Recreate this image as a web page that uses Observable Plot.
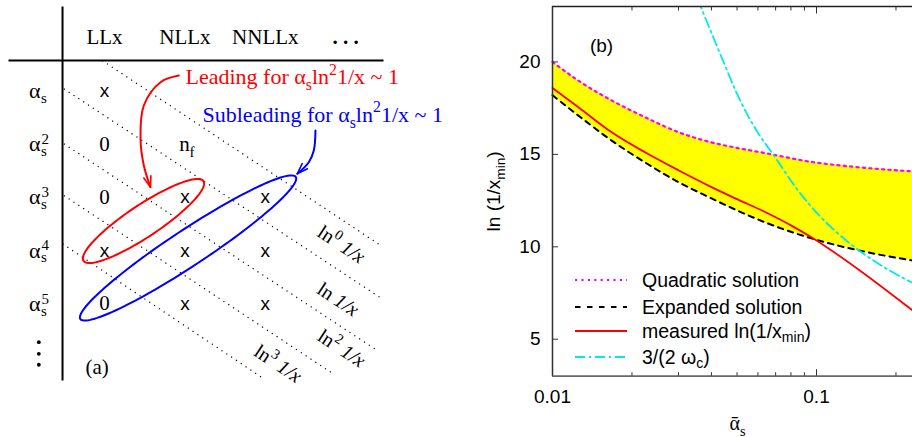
<!DOCTYPE html>
<html><head><meta charset="utf-8">
<script src="https://cdn.jsdelivr.net/npm/d3@7"></script>
<script src="https://cdn.jsdelivr.net/npm/@observablehq/plot@0.6"></script>
<style>
body{margin:0;background:#fff;}
#fig{position:relative;width:912px;height:437px;overflow:hidden;background:#fff;}
#left{position:absolute;left:0;top:0;}
#right{position:absolute;left:470px;top:0;}
#legend{position:absolute;left:0;top:0;font-family:"Liberation Sans",Arial,sans-serif;font-size:19.5px;color:#000;}
.lrow{position:absolute;left:575px;height:26px;display:flex;align-items:center;white-space:nowrap;}
.lrow svg{display:block;margin-right:15px;}
.lrow sub{font-size:72%;vertical-align:-0.3em;line-height:0;}
</style></head><body>
<div id="fig"><div id="left"></div><div id="right"></div><div id="legend"></div></div>
<script>
// ---------------- Panel (a): data ----------------
const columns = ["LLx", "NLLx", "NNLLx", ". . ."];
const rowPowers = ["", "2", "3", "4", "5"];
const cellGrid = [
  ["x", "", ""],
  ["0", "n_{f}", ""],
  ["0", "x", "x"],
  ["x", "x", "x"],
  ["0", "x", "x"]
];
const diagonalLabels = ["ln^{0} %{1/x}", "ln %{1/x}", "ln^{2} %{1/x}", "ln^{3} %{1/x}"];
const leadingText = "Leading for α_{s}ln^{2}1/x ~ 1";
const subleadingText = "Subleading for α_{s}ln^{2}1/x ~ 1";
const panelA = "(a)";

// ---------------- Panel (b): data ----------------
const alphaGrid = [0.01, 0.0125, 0.0167, 0.0225, 0.03, 0.04, 0.05, 0.065, 0.095, 0.145, 0.231];
const quadratic = [20.0, 19.0, 17.93, 17.0, 16.2, 15.65, 15.35, 15.05, 14.6, 14.3, 14.08];
const expanded  = [18.2, 17.11, 15.76, 14.55, 13.5, 12.62, 11.97, 11.28, 10.47, 9.8, 9.26];
const measuredAlpha = [0.01, 0.0125, 0.0167, 0.0225, 0.03, 0.04, 0.05, 0.065, 0.081, 0.096, 0.11, 0.145, 0.231];
const measured      = [18.59, 17.56, 16.21, 15.1, 14.14, 13.23, 12.58, 11.83, 11.12, 10.5, 9.95, 8.75, 6.56];
const omegaAlpha = [0.0355, 0.0369, 0.0452, 0.0493, 0.0603, 0.0689, 0.0833, 0.1, 0.12, 0.145, 0.185, 0.231];
const omegaCurve = [23.4, 22.8, 19.75, 18.47, 16.12, 14.95, 13.23, 11.85, 10.75, 9.8, 8.8, 8.05];
const majorXTicks = [0.01, 0.1];
const minorXTicks = [0.02, 0.03, 0.04, 0.05, 0.06, 0.07, 0.08, 0.09, 0.2];
const xTickLabels = ["0.01", "0.1"];
const yTicks = [5, 10, 15, 20];
const yTickLabels = ["5", "10", "15", "20"];
const legendNames = ["Quadratic solution", "Expanded solution", "measured ln(1/x<sub>min</sub>)", "3/(2 ω<sub>c</sub>)"];
const xLabel = "ᾱ_{s}";
const yLabel = "ln (1/x_{min})";
const panelB = "(b)";

// ---------------- helpers ----------------
function richify(root) {
  const NS = "http://www.w3.org/2000/svg";
  root.querySelectorAll("text").forEach(el => {
    const s = el.textContent;
    if (!/[_^%]\{/.test(s)) return;
    while (el.firstChild) el.removeChild(el.firstChild);
    const re = /([_^%])\{([^}]*)\}/g;
    let last = 0, m, pending = 0;
    const add = (txt, kind) => {
      if (!txt) return;
      const t = document.createElementNS(NS, "tspan");
      let shift = 0, scale = 1;
      if (kind === "_") { shift = 0.3; scale = 0.72; }
      else if (kind === "^") { shift = -0.42; scale = 0.72; }
      else if (kind === "%") t.setAttribute("font-style", "italic");
      if (scale !== 1) t.setAttribute("font-size", (scale * 100) + "%");
      const dy = (shift - pending) / scale;
      if (dy) t.setAttribute("dy", dy + "em");
      pending = shift;
      t.textContent = txt;
      el.appendChild(t);
    };
    while ((m = re.exec(s))) { add(s.slice(last, m.index), ""); add(m[2], m[1]); last = re.lastIndex; }
    add(s.slice(last), "");
  });
}

// ---------------- Panel (a): layout in table units (column index, row index) ----------------
const X0 = -1.2935, X1 = 4.552, Y0 = -0.6948, Y1 = 7.512;
const WA = 470, HA = 437;
const colStep = WA / (X1 - X0), rowStep = HA / (Y1 - Y0);

const cells = [];
cellGrid.forEach((row, r) => row.forEach((t, c) => { if (t) cells.push({col: c, row: r + 1, text: t}); }));
const rows = rowPowers.map((p, r) => ({row: r + 1, power: p}));

const diagonals = [
  {i1: -0.029, j1: 0.432, i2: 3.454, j2: 3.925},
  {i1: -0.506, j1: 0.963, i2: 3.433, j2: 4.888},
  {i1: -0.506, j1: 1.996, i2: 3.392, j2: 5.878},
  {i1: -0.506, j1: 2.967, i2: 2.832, j2: 6.304},
  {i1: -0.522, j1: 3.874, i2: 1.981, j2: 6.409}
];
const diagLabelPos = [[2.945, 3.887], [2.904, 4.920], [2.948, 5.840], [2.158, 6.128]];
const diagLabelData = diagonalLabels.map((t, k) => ({text: t, i: diagLabelPos[k][0], j: diagLabelPos[k][1]}));

const tableLines = [
  {i1: -0.522, j1: -0.582, i2: -0.522, j2: 6.441},
  {i1: -1.194, j1: 0.432, i2: 3.47, j2: 0.432}
];

function ellipsePts(e) {
  const th = e.angle * Math.PI / 180;
  return d3.range(0, 145).map(k => {
    const t = 2 * Math.PI * k / 144;
    const dx = e.a * Math.cos(t) * Math.cos(th) - e.b * Math.sin(t) * Math.sin(th);
    const dy = e.a * Math.cos(t) * Math.sin(th) + e.b * Math.sin(t) * Math.cos(th);
    return [e.ci + dx / colStep, e.cj + dy / rowStep];
  });
}
const redEllipse = ellipsePts({ci: 0.485, cj: 3.446, a: 72, b: 16, angle: -33.6});
const blueEllipse = ellipsePts({ci: 1.039, cj: 3.953, a: 129, b: 18, angle: -33.4});

const redArrow = [[0.924, 0.714], [0.697, 0.839], [0.489, 1.277], [0.448, 1.902], [0.489, 2.404], [0.572, 2.811]];
const blueArrow = [[2.624, 1.746], [2.603, 2.122], [2.541, 2.342], [2.397, 2.560]];
function wings(path, len, halfDeg) {
  const a = path[path.length - 2], b = path[path.length - 1];
  const ang = Math.atan2((b[1] - a[1]) * rowStep, (b[0] - a[0]) * colStep);
  const h = halfDeg * Math.PI / 180;
  return [-1, 1].map(s => ({
    i1: b[0], j1: b[1],
    i2: b[0] - len * Math.cos(ang + s * h) / colStep,
    j2: b[1] - len * Math.sin(ang + s * h) / rowStep
  }));
}

const serif = "'Liberation Serif', 'Times New Roman', serif";
const sans = "'Liberation Sans', Arial, sans-serif";

const left = Plot.plot({
  width: WA, height: HA, margin: 0,
  x: {domain: [X0, X1], range: [0, WA], axis: null},
  y: {domain: [Y0, Y1], range: [0, HA], axis: null},
  style: {fontFamily: serif, background: "white", color: "black"},
  marks: [
    Plot.link(diagonals, {x1: "i1", y1: "j1", x2: "i2", y2: "j2", stroke: "black", strokeWidth: 1.2, strokeDasharray: "1.2,4.6"}),
    Plot.link(tableLines, {x1: "i1", y1: "j1", x2: "i2", y2: "j2", stroke: "black", strokeWidth: 2}),
    Plot.text(columns, {filter: (d, i) => i < 3, x: (d, i) => i, y: 0, text: d => d, fontSize: 21, fontFamily: serif}),
    Plot.text(columns, {filter: (d, i) => i === 3, x: (d, i) => i, y: 0, text: d => d, fontSize: 21, fontWeight: "bold", fontFamily: serif}),
    Plot.text(rows, {x: -0.796, y: "row", text: () => "α", fontSize: 22, textAnchor: "end", fontFamily: serif}),
    Plot.text(rows, {x: -0.796, y: "row", text: () => "s", fontSize: 15, textAnchor: "start", dx: 0.5, dy: 7, fontFamily: serif}),
    Plot.text(rows, {x: -0.796, y: "row", text: "power", fontSize: 15, textAnchor: "start", dx: 1, dy: -5, fontFamily: serif}),
    Plot.dot([5.722, 5.94, 6.146], {x: -0.817, y: d => d, r: 1.9, fill: "black", stroke: null}),
    Plot.line(redEllipse, {x: d => d[0], y: d => d[1], stroke: "#ff0000", strokeWidth: 2}),
    Plot.line(blueEllipse, {x: d => d[0], y: d => d[1], stroke: "#0000ff", strokeWidth: 2}),
    Plot.text(cells, {filter: d => d.text === "x", x: "col", y: "row", text: "text", fontSize: 19, fontFamily: sans}),
    Plot.text(cells, {filter: d => d.text === "0", x: "col", y: "row", text: "text", fontSize: 21, fontFamily: serif}),
    Plot.text(cells, {filter: d => d.text.startsWith("n"), x: "col", y: "row", text: "text", fontSize: 21, dx: 2, fontFamily: serif}),
    Plot.line(redArrow, {x: d => d[0], y: d => d[1], stroke: "#ff0000", strokeWidth: 2, curve: "catmull-rom"}),
    Plot.link(wings(redArrow, 12, 19), {x1: "i1", y1: "j1", x2: "i2", y2: "j2", stroke: "#ff0000", strokeWidth: 1.6}),
    Plot.line(blueArrow, {x: d => d[0], y: d => d[1], stroke: "#0000ff", strokeWidth: 2, curve: "catmull-rom"}),
    Plot.link(wings(blueArrow, 12, 19), {x1: "i1", y1: "j1", x2: "i2", y2: "j2", stroke: "#0000ff", strokeWidth: 1.6}),
    Plot.text([leadingText], {x: 1.007, y: 0.738, text: d => d, fill: "#ff0000", fontSize: 22, textAnchor: "start", fontFamily: serif}),
    Plot.text([subleadingText], {x: 1.219, y: 1.446, text: d => d, fill: "#0000ff", fontSize: 22, textAnchor: "start", fontFamily: serif}),
    Plot.text(diagLabelData, {x: "i", y: "j", text: "text", rotate: 33.5, fontSize: 20, fontFamily: serif}),
    Plot.text([panelA], {x: -0.091, y: 6.197, text: d => d, fontSize: 21, fontFamily: serif})
  ]
});
document.getElementById("left").appendChild(left);

// ---------------- Panel (b) ----------------
const xMax = 0.231;
const right = Plot.plot({
  width: 442, height: 437, marginLeft: 82, marginRight: 0, marginTop: 6, marginBottom: 61.3,
  x: {type: "log", domain: [0.01, xMax], label: null},
  y: {domain: [3, 23], label: null},
  style: {fontFamily: sans, fontSize: "19px", background: "white", color: "black"},
  marks: [
    Plot.areaY(alphaGrid, {x: d => d, y1: expanded, y2: quadratic, fill: "#ffff00", curve: "monotone-x"}),
    Plot.line(alphaGrid, {x: d => d, y: quadratic, stroke: "#ff00ff", strokeWidth: 2.2, strokeDasharray: "2.2,4.2", curve: "monotone-x"}),
    Plot.line(alphaGrid, {x: d => d, y: expanded, stroke: "black", strokeWidth: 2, strokeDasharray: "5.5,5", curve: "monotone-x"}),
    Plot.line(measuredAlpha, {x: d => d, y: measured, stroke: "#ff0000", strokeWidth: 1.8, curve: "monotone-x"}),
    Plot.line(omegaAlpha, {x: d => d, y: omegaCurve, stroke: "#00e8e8", strokeWidth: 1.8, strokeDasharray: "10,4,2,4", curve: "monotone-x", clip: true}),
    Plot.ruleX([0.01], {stroke: "#333", strokeWidth: 1.5}),
    Plot.ruleY([3], {stroke: "#666", strokeWidth: 1.8}),
    Plot.ruleY([23], {stroke: "#222", strokeWidth: 1.5}),
    Plot.axisX({anchor: "bottom", ticks: majorXTicks, tickSize: 6.5, dy: -6.5, fill: "none", label: null, stroke: "#333"}),
    Plot.axisX({anchor: "bottom", ticks: minorXTicks, tickSize: 3.5, dy: -3.5, fill: "none", label: null, stroke: "#333"}),
    Plot.axisX({anchor: "top", ticks: majorXTicks, tickSize: 6.5, dy: 6.5, fill: "none", label: null, stroke: "#333"}),
    Plot.axisX({anchor: "top", ticks: minorXTicks, tickSize: 3.5, dy: 3.5, fill: "none", label: null, stroke: "#333"}),
    Plot.axisX({anchor: "bottom", ticks: majorXTicks, tickSize: 0, tickPadding: 13, label: null,
      tickFormat: d => xTickLabels[majorXTicks.indexOf(d)]}),
    Plot.axisY({anchor: "left", ticks: yTicks, tickSize: 6, dx: 6, fill: "none", label: null, stroke: "#333"}),
    Plot.axisY({anchor: "left", ticks: yTicks, tickSize: 0, tickPadding: 12, label: null,
      tickFormat: d => yTickLabels[yTicks.indexOf(d)]}),
    Plot.text([panelB], {frameAnchor: "top-left", dx: 49, dy: 39, text: d => d, textAnchor: "middle", lineAnchor: "middle", fontSize: 19}),
    Plot.text([yLabel], {frameAnchor: "left", dx: -59, rotate: -90, text: d => d, textAnchor: "middle", lineAnchor: "middle", fontSize: 19}),
    Plot.text([xLabel], {frameAnchor: "bottom", dx: 5, dy: 47, text: d => d, textAnchor: "middle", lineAnchor: "middle", fontSize: 20, fontFamily: serif})
  ]
});
document.getElementById("right").appendChild(right);
richify(left);
richify(right);

// ---------------- Legend (panel b) ----------------
const legendStyles = [
  {stroke: "#ff00ff", width: 2.2, dash: "2.2,4.2"},
  {stroke: "black", width: 2, dash: "5.5,6.5"},
  {stroke: "#ff0000", width: 1.8, dash: null},
  {stroke: "#00e8e8", width: 1.8, dash: "10,4,2,4"}
];
const legendTops = [267, 294, 318, 344];
const legend = d3.select("#legend");
legendNames.forEach((name, k) => {
  const st = legendStyles[k];
  const row = legend.append("div").attr("class", "lrow").style("top", legendTops[k] + "px");
  const svg = row.append("svg").attr("width", 52).attr("height", 26);
  svg.append("line").attr("x1", 0).attr("x2", 52).attr("y1", 13).attr("y2", 13)
    .attr("stroke", st.stroke).attr("stroke-width", st.width)
    .attr("stroke-dasharray", st.dash);
  row.append("span").html(name);
});
</script>
</body></html>
